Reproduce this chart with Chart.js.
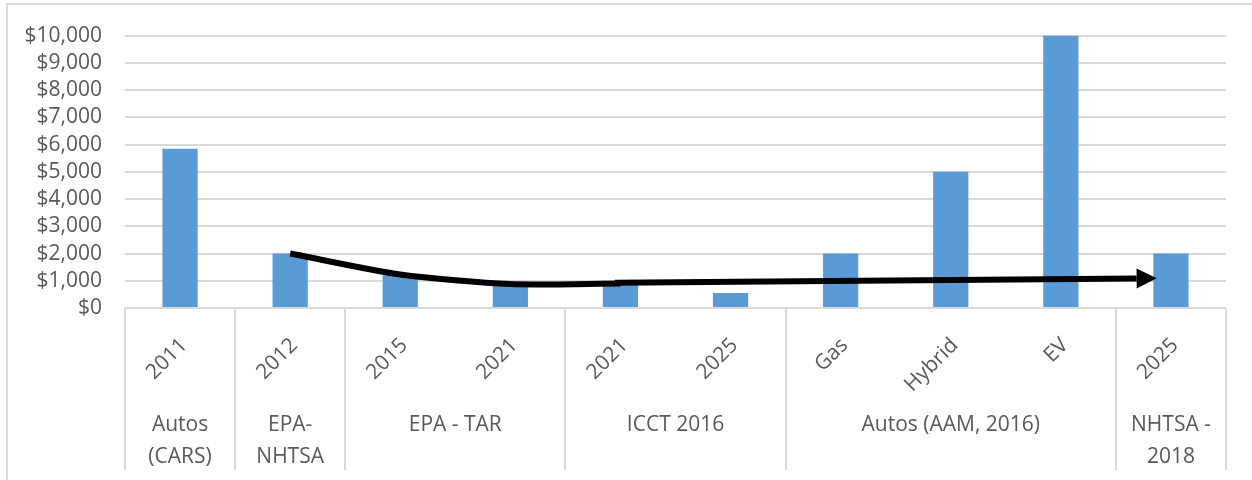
<!DOCTYPE html>
<html>
<head>
<meta charset="utf-8">
<script src="https://cdn.jsdelivr.net/npm/chart.js@4"></script>
<style>
  html, body { margin: 0; padding: 0; background: #ffffff; }
  #wrap { width: 1252px; height: 480px; position: relative; }
</style>
</head>
<body>
<div id="wrap"><canvas id="c" width="1252" height="480"></canvas></div>
<script>
// ---- data ----
const categories = ['2011', '2012', '2015', '2021', '2021', '2025', 'Gas', 'Hybrid', 'EV', '2025'];
const groupLabels = [['Autos', '(CARS)'], ['EPA-', 'NHTSA'], ['EPA - TAR'], ['ICCT 2016'], ['Autos (AAM, 2016)'], ['NHTSA -', '2018']];
const groupFirst = [0, 1, 2, 4, 6, 9];
const groupLast = [0, 1, 3, 5, 8, 9];
const costs = [5850, 2000, 1200, 900, 900, 550, 2000, 5000, 10000, 2000];
const trendLine = [null, 2000, 1230, 880, 900, null, null, null, null, null];
const arrowStart = [3.95, 930];   // [category position, value]
const arrowEnd = [8.87, 1090];
const yMin = 0, yMax = 10000, yStep = 1000;

const FONT = '"Open Sans", "Liberation Sans", sans-serif';
const TEXT = '#595959';
const GRID = '#d9d9d9';

const fmt = new Intl.NumberFormat('en-US');

const decor = {
  id: 'decor',
  beforeDraw(chart) {
    const ctx = chart.ctx;
    ctx.save();
    ctx.fillStyle = '#ffffff';
    ctx.fillRect(0, 0, chart.width, chart.height);
    ctx.strokeStyle = GRID;
    ctx.lineWidth = 2;
    ctx.beginPath();
    ctx.moveTo(7, chart.height);
    ctx.lineTo(7, 4);
    ctx.lineTo(chart.width, 4);
    ctx.stroke();
    ctx.restore();
  },
  afterDatasetsDraw(chart) {
    const ctx = chart.ctx;
    const xs = chart.scales.x, ys = chart.scales.y;
    const x0 = xs.getPixelForValue(arrowStart[0]), y0 = ys.getPixelForValue(arrowStart[1]);
    const x1 = xs.getPixelForValue(arrowEnd[0]), y1 = ys.getPixelForValue(arrowEnd[1]);
    const ang = Math.atan2(y1 - y0, x1 - x0);
    const head = 20, half = 10;
    ctx.save();
    ctx.strokeStyle = '#000';
    ctx.fillStyle = '#000';
    ctx.lineWidth = 6;
    ctx.lineCap = 'butt';
    ctx.beginPath();
    ctx.moveTo(x0, y0);
    ctx.lineTo(x1 - head * Math.cos(ang), y1 - head * Math.sin(ang));
    ctx.stroke();
    ctx.beginPath();
    ctx.moveTo(x1, y1);
    ctx.lineTo(x1 - head * Math.cos(ang) + half * Math.sin(ang), y1 - head * Math.sin(ang) - half * Math.cos(ang));
    ctx.lineTo(x1 - head * Math.cos(ang) - half * Math.sin(ang), y1 - head * Math.sin(ang) + half * Math.cos(ang));
    ctx.closePath();
    ctx.fill();
    ctx.restore();
  },
  afterDraw(chart) {
    const ctx = chart.ctx;
    const xs = chart.scales.x;
    const area = chart.chartArea;
    const bottom = area.bottom;
    const edge = (i) => {
      if (i <= 0) return area.left;
      if (i >= categories.length) return area.right;
      return (xs.getPixelForValue(i - 1) + xs.getPixelForValue(i)) / 2;
    };
    ctx.save();
    ctx.strokeStyle = GRID;
    ctx.lineWidth = 2;
    const bounds = [0].concat(groupLast.map(g => g + 1));
    bounds.forEach(b => {
      const x = Math.round(edge(b));
      ctx.beginPath();
      ctx.moveTo(x, bottom);
      ctx.lineTo(x, 470);
      ctx.stroke();
    });
    ctx.fillStyle = TEXT;
    ctx.font = '21px ' + FONT;
    categories.forEach((lab, i) => {
      const x = xs.getPixelForValue(i);
      ctx.save();
      ctx.translate(x + 4, bottom + 34);
      ctx.rotate(-Math.PI / 4);
      ctx.textAlign = 'right';
      ctx.textBaseline = 'middle';
      ctx.fillText(lab, 0, 0);
      ctx.restore();
    });
    ctx.textAlign = 'center';
    ctx.textBaseline = 'middle';
    groupLabels.forEach((lines, g) => {
      const cx = (edge(groupFirst[g]) + edge(groupLast[g] + 1)) / 2;
      lines.forEach((t, k) => {
        ctx.fillText(t, cx, 425 + k * 32);
      });
    });
    ctx.restore();
  }
};

new Chart(document.getElementById('c'), {
  data: {
    labels: categories,
    datasets: [
      {
        type: 'line',
        data: trendLine,
        borderColor: '#000000',
        borderWidth: 6,
        pointRadius: 0,
        tension: 0.25,
        spanGaps: false,
        order: 0
      },
      {
        type: 'bar',
        data: costs,
        backgroundColor: '#5b9bd5',
        borderWidth: 0,
        barPercentage: 0.32,
        categoryPercentage: 1.0,
        order: 1
      }
    ]
  },
  options: {
    responsive: false,
    animation: false,
    devicePixelRatio: 1,
    layout: { padding: { left: 0, right: 26, top: 27, bottom: 0 } },
    plugins: { legend: { display: false }, tooltip: { enabled: false }, title: { display: false } },
    scales: {
      x: {
        type: 'category',
        offset: true,
        grid: { display: false },
        border: { display: false },
        ticks: { display: false },
        afterFit(s) { s.height = 172; }
      },
      y: {
        min: yMin, max: yMax,
        ticks: {
          stepSize: yStep,
          autoSkip: false,
          color: TEXT,
          font: { family: FONT, size: 21 },
          padding: 23,
          callback: (v) => '$' + fmt.format(v)
        },
        grid: { color: GRID, lineWidth: 2, drawTicks: false },
        border: { display: false },
        afterFit(s) { s.width = 125; }
      }
    }
  },
  plugins: [decor]
});
</script>
</body>
</html>
